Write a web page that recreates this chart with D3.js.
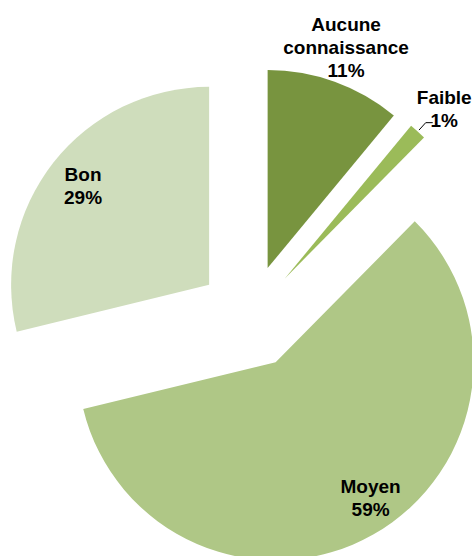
<!DOCTYPE html>
<html lang="fr">
<head>
<meta charset="UTF-8">
<title>Niveau de connaissance</title>
<script src="https://d3js.org/d3.v7.min.js"></script>
<style>
  body { margin: 0; padding: 0; background: #ffffff; overflow: hidden; }
  svg { display: block; }
  .label { font-family: "Liberation Sans", Arial, sans-serif; font-weight: bold; font-size: 19px; fill: #000; }
  .leader { stroke: #000; stroke-width: 1; fill: none; }
</style>
</head>
<body>
<svg id="chart" width="472" height="556"></svg>
<script>
// --- data ---
const categories = ["Aucune connaissance", "Faible", "Moyen", "Bon"];
const labelLines = [["Aucune", "connaissance"], ["Faible"], ["Moyen"], ["Bon"]];
const values = [11.0, 1.4, 58.8, 28.8];
const percentLabels = ["11%", "1%", "59%", "29%"];
const labelPlacement = ["outside", "outside", "inside", "inside"];
const colors = ["#78943F", "#9BBB59", "#AFC786", "#CFDDBC"];

// --- layout ---
const width = 472, height = 556;
const cx = 250, cy = 317;
const radius = 198;
const explode = 52;
const lineH = 23;
// small manual nudges of the label blocks (like dragged labels in the original)
const labelNudge = [[0, -3], [4, 2], [16, -4], [0, 0]];

const svg = d3.select("#chart");

const pie = d3.pie().sort(null).value(d => d.value);
const arc = d3.arc().innerRadius(0).outerRadius(radius);

const data = categories.map((c, i) => ({
  name: c, value: values[i], lines: labelLines[i].concat([percentLabels[i]]),
  place: labelPlacement[i], color: colors[i], nudge: labelNudge[i]
}));
const arcs = pie(data);

// unit vector along the slice's mid angle (0 = top, clockwise)
function dir(d) {
  const a = (d.startAngle + d.endAngle) / 2;
  return [Math.sin(a), -Math.cos(a)];
}

const g = svg.append("g").attr("transform", `translate(${cx},${cy})`);

const slice = g.selectAll("g.slice")
  .data(arcs)
  .enter().append("g")
  .attr("class", "slice")
  .attr("transform", d => {
    const [ux, uy] = dir(d);
    return `translate(${ux * explode},${uy * explode})`;
  });

slice.append("path")
  .attr("d", arc)
  .attr("fill", d => d.data.color);

// labels
slice.each(function(d) {
  const [ux, uy] = dir(d);
  const r = d.data.place === "inside" ? radius * 0.81 : radius * 1.17;
  const px = ux * r + d.data.nudge[0], py = uy * r + d.data.nudge[1];
  const n = d.data.lines.length;
  const first = py - (n - 1) * lineH / 2 + 6.5;
  const t = d3.select(this).append("text")
    .attr("class", "label")
    .attr("text-anchor", "middle");
  d.data.lines.forEach((ln, k) => {
    t.append("tspan").attr("x", px).attr("y", first + k * lineH).text(ln);
  });
  // leader line for the very thin slice
  if (d.endAngle - d.startAngle < 0.1) {
    const s = [ux * (radius + 2), uy * (radius + 2)];
    const e = [ux * (radius + 12), uy * (radius + 12)];
    d3.select(this).append("path")
      .attr("class", "leader")
      .attr("d", d3.line()([s, e, [e[0] + 7, e[1]]]));
  }
});
</script>
</body>
</html>
